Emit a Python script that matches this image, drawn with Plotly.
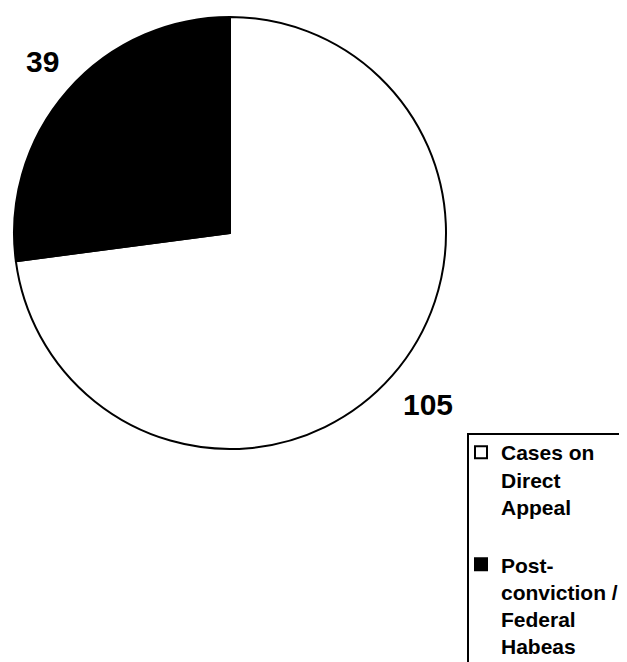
import plotly.graph_objects as go

label_lines = [["Cases on", "Direct", "Appeal", " "], ["Post-", "conviction /", "Federal", "Habeas"]]
values = [105, 39]
colors = ["#ffffff", "#000000"]
label_pos = [(420, 396), (34, 53)]  # pixel centers of value labels

labels = ["<br>".join(f"<b>{s}</b>" for s in lines) for lines in label_lines]

W, H = 627, 662
cx, cy, r = 222, 225, 216

fig = go.Figure()
fig.add_trace(go.Pie(
    labels=labels,
    values=values,
    sort=False,
    direction="clockwise",
    rotation=0,
    textinfo="none",
    hoverinfo="label+value",
    marker=dict(colors=colors, line=dict(color="#000000", width=2)),
    domain=dict(x=[(cx - r) / W, (cx + r) / W], y=[1 - (cy + r) / H, 1 - (cy - r) / H]),
    showlegend=True,
))

for v, (px, py) in zip(values, label_pos):
    fig.add_annotation(
        x=px / W, y=1 - py / H, xref="paper", yref="paper",
        text=f"<b>{v}</b>", showarrow=False, xanchor="center", yanchor="middle",
        font=dict(family="Liberation Sans, Arial", size=30, color="#000000"),
    )

# legend frame (right side runs off the page as in the reference)
fig.add_shape(
    type="rect", xref="paper", yref="paper",
    x0=460 / W, x1=640 / W, y0=1 - 661 / H, y1=1 - 426 / H,
    line=dict(color="#000000", width=2), fillcolor="rgba(0,0,0,0)", layer="below",
)

fig.update_layout(
    width=W, height=H,
    margin=dict(l=0, r=0, t=0, b=0, pad=0, autoexpand=False),
    paper_bgcolor="#ffffff",
    plot_bgcolor="#ffffff",
    legend=dict(
        x=453 / W, y=1 - 424 / H, xanchor="left", yanchor="top",
        borderwidth=0, bgcolor="rgba(0,0,0,0)",
        font=dict(family="Liberation Sans, Arial", size=21, color="#000000"),
        valign="top", traceorder="normal",
    ),
)

fig.write_html("out.html")
